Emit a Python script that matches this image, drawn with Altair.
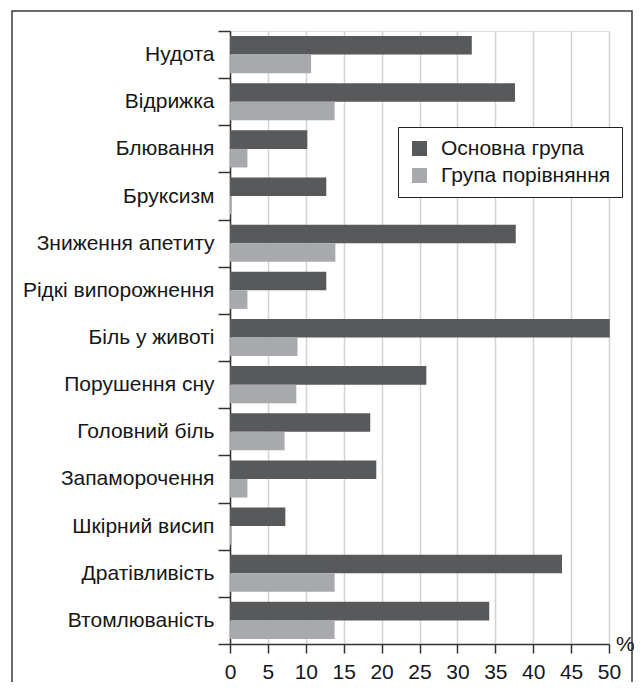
import altair as alt
import pandas as pd

categories = [
    "Нудота", "Відрижка", "Блювання", "Бруксизм", "Зниження апетиту",
    "Рідкі випорожнення", "Біль у животі", "Порушення сну", "Головний біль",
    "Запаморочення", "Шкірний висип", "Дратівливість", "Втомлюваність",
]
main_group = [31.9, 37.6, 10.2, 12.7, 37.7, 12.7, 50.1, 25.9, 18.5, 19.3, 7.3, 43.8, 34.2]
comparison_group = [10.7, 13.8, 2.3, 0.2, 13.9, 2.3, 8.9, 8.75, 7.2, 2.3, 0.2, 13.8, 13.8]
series = ["Основна група", "Група порівняння"]
colors = ["#58595b", "#a7a9ac"]
x_ticks = [0, 5, 10, 15, 20, 25, 30, 35, 40, 45, 50]

rows = []
for c, a, b in zip(categories, main_group, comparison_group):
    rows.append({"cat": c, "group": series[0], "value": a})
    rows.append({"cat": c, "group": series[1], "value": b})
df = pd.DataFrame(rows)
one = pd.DataFrame({"k": [0]})

FONT = "Liberation Sans"
TXT = "#161616"
W, H = 379, 613
PAD_L, PAD_T, PAD_R, PAD_B = 222, 23, 25, 38

bars = alt.Chart(df).mark_bar(clip=False).encode(
    x=alt.X("value:Q",
            scale=alt.Scale(domain=[0, 50], nice=False, zero=True),
            axis=alt.Axis(title=None, values=x_ticks, grid=True, gridColor="#d4d4d4",
                          gridWidth=1.5, domainColor="#333333", domainWidth=1.5,
                          tickColor="#333333", tickWidth=1.5, tickSize=9,
                          labelPadding=8, labelFontSize=21, labelFont=FONT,
                          labelColor=TXT, labelFlush=False)),
    y=alt.Y("cat:N", sort=categories,
            scale=alt.Scale(paddingInner=0, paddingOuter=0),
            axis=alt.Axis(title=None, tickBand="extent", grid=False,
                          domainColor="#333333", domainWidth=1.5,
                          tickColor="#333333", tickWidth=1.5, tickSize=12,
                          labelPadding=4, labelFontSize=21, labelFont=FONT,
                          labelColor=TXT, labelLimit=300)),
    yOffset=alt.YOffset("group:N", sort=series,
                        scale=alt.Scale(paddingOuter=0.27, paddingInner=0)),
    color=alt.Color("group:N", sort=series,
                    scale=alt.Scale(domain=series, range=colors),
                    legend=alt.Legend(orient="none", legendX=168, legendY=96, title=None,
                                      symbolType="square", symbolSize=225,
                                      symbolStrokeWidth=0, symbolOpacity=1,
                                      labelFontSize=21, labelFont=FONT, labelColor=TXT,
                                      labelOffset=11, labelLimit=400,
                                      padding=11, rowPadding=5,
                                      strokeColor="#222222", fillColor="white")),
)

frame = alt.Chart(one).mark_rect(fillOpacity=0, stroke="#3a3a3a", strokeWidth=1.5, clip=False).encode(
    x=alt.value(-218), x2=alt.value(W + PAD_R - 2), y=alt.value(-20), y2=alt.value(760)
)

pct = alt.Chart(one).mark_text(text="%", align="left", baseline="middle", fontSize=21,
                               font=FONT, color=TXT).encode(
    x=alt.value(W + 7), y=alt.value(H + 1)
)

chart = alt.layer(frame, bars, pct).properties(
    width=W, height=H,
    autosize=alt.AutoSizeParams(type="none"),
    padding={"left": PAD_L, "top": PAD_T, "right": PAD_R, "bottom": PAD_B},
).configure_view(stroke=None).configure(background="white")

chart.save("out.html", embed_options={"renderer": "svg", "actions": False})
